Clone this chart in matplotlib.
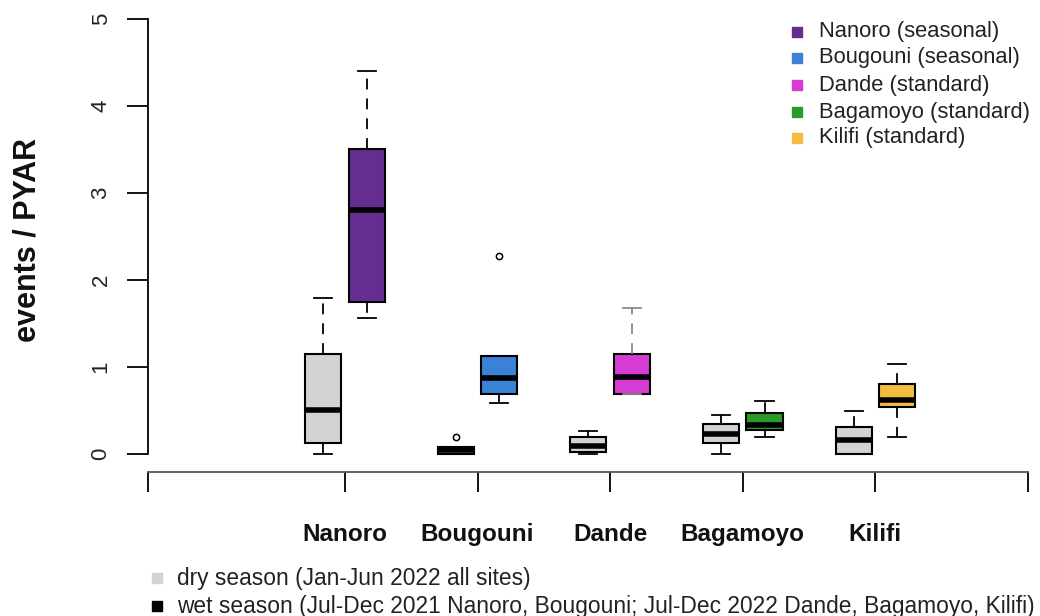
import matplotlib
matplotlib.use("Agg")
import matplotlib.pyplot as plt
import matplotlib.transforms as mtransforms
from matplotlib.lines import Line2D

plt.rcParams['font.family'] = ['Liberation Sans', 'DejaVu Sans']

# ---- data: boxplot summaries (events / PYAR) ----
sites = ['Nanoro', 'Bougouni', 'Dande', 'Bagamoyo', 'Kilifi']

dry_whislo = [0.00, 0.00, 0.00, 0.00, 0.00]
dry_q1     = [0.13, 0.00, 0.02, 0.13, 0.00]
dry_med    = [0.51, 0.045, 0.09, 0.23, 0.16]
dry_q3     = [1.15, 0.085, 0.20, 0.34, 0.31]
dry_whishi = [1.79, 0.085, 0.27, 0.45, 0.50]
dry_fliers = [[], [0.19], [], [], []]

wet_whislo = [1.56, 0.59, 0.69, 0.19, 0.19]
wet_q1     = [1.75, 0.69, 0.69, 0.28, 0.54]
wet_med    = [2.81, 0.87, 0.89, 0.33, 0.62]
wet_q3     = [3.51, 1.13, 1.15, 0.47, 0.80]
wet_whishi = [4.41, 1.13, 1.68, 0.61, 1.03]
wet_fliers = [[], [2.28], [], [], []]

legend_labels = ['Nanoro (seasonal)', 'Bougouni (seasonal)', 'Dande (standard)',
                 'Bagamoyo (standard)', 'Kilifi (standard)']
season_labels = ['dry season (Jan-Jun 2022 all sites)',
                 'wet season (Jul-Dec 2021 Nanoro, Bougouni; Jul-Dec 2022 Dande, Bagamoyo, Kilifi)']

# ---- styling ----
site_colors = ['#662D91', '#3A82D6', '#D63CD1', '#2A9A28', '#F2BC3E']
dry_color = '#D3D3D3'
W, H, DPI = 1040, 616, 100


def stats(whislo, q1, med, q3, whishi, fliers):
    return [dict(whislo=a, q1=b, med=c, q3=d, whishi=e, fliers=f)
            for a, b, c, d, e, f in zip(whislo, q1, med, q3, whishi, fliers)]


fig = plt.figure(figsize=(W / DPI, H / DPI), dpi=DPI)
# axes frame: x axis line at pixel row 472, y=5 at row 19
ax = fig.add_axes([147.7 / W, (H - 472) / H, (1027.7 - 147.7) / W, (472 - 19.3) / H])
xmin, xmax = -0.488, 6.149
ax.set_xlim(xmin, xmax)
ax.set_ylim(-0.207, 5)

pos = list(range(1, len(sites) + 1))
off = 0.164
bw = 0.272

common = dict(widths=bw, patch_artist=True, showfliers=True,
              boxprops=dict(linewidth=1.5, edgecolor='black'),
              medianprops=dict(color='black', linewidth=4.0, solid_capstyle='butt'),
              whiskerprops=dict(color='black', linewidth=1.3, linestyle=(0, (6, 5))),
              capprops=dict(color='black', linewidth=1.3),
              flierprops=dict(marker='o', markersize=4.5, markerfacecolor='white',
                              markeredgecolor='black', markeredgewidth=1.1, linestyle='none'))

bd = ax.bxp(stats(dry_whislo, dry_q1, dry_med, dry_q3, dry_whishi, dry_fliers),
            positions=[p - off for p in pos], **common)
bwt = ax.bxp(stats(wet_whislo, wet_q1, wet_med, wet_q3, wet_whishi, wet_fliers),
             positions=[p + off for p in pos], **common)
for b in bd['boxes']:
    b.set_facecolor(dry_color)
for b, c in zip(bwt['boxes'], site_colors):
    b.set_facecolor(c)
# lighter whisker on the Dande wet-season box
for art in bwt['whiskers'][4:6] + bwt['caps'][4:6]:
    art.set_color('#8a8a8a')

# ---- axes ----
for s in ['top', 'right']:
    ax.spines[s].set_visible(False)
ax.spines['left'].set_bounds(0, 5)
ax.spines['left'].set_linewidth(1.3)
ax.spines['bottom'].set_linewidth(1.3)
ax.spines['bottom'].set_color('#555555')
ax.set_yticks([0, 1, 2, 3, 4, 5])
ax.set_yticklabels(['0', '1', '2', '3', '4', '5'], rotation=90, va='center',
                   fontsize=16, color='#222222')
ax.tick_params(axis='y', length=15, width=1.3, pad=11)
ax.set_xticks([xmin] + pos + [xmax])
ax.set_xticklabels([''] * (len(pos) + 2))
ax.tick_params(axis='x', length=14.5, width=1.3)

blend = mtransforms.blended_transform_factory(ax.transData, fig.transFigure)
for p, s in zip(pos, sites):
    ax.text(p, 1 - 540.7 / H, s, transform=blend, ha='center', va='baseline',
            fontsize=17.5, fontweight='bold', color='#111111')

fig.text(28 / W, 1 - 240 / H, 'events / PYAR', rotation=90, ha='center', va='center',
         fontsize=22, fontweight='bold', color='#111111')

# ---- site legend (top right) ----
rows_y = [31.5, 58, 85, 112, 138]
for y, c, lab in zip(rows_y, site_colors, legend_labels):
    fig.add_artist(Line2D([797 / W], [1 - y / H], marker='s', markersize=7,
                          markerfacecolor=c, markeredgecolor=c, linestyle='none',
                          transform=fig.transFigure))
    fig.text(819 / W, 1 - y / H, lab, ha='left', va='center', fontsize=15.8, color='#222222')

# ---- season legend (bottom) ----
for y_sq, y_base, c, lab in zip([578, 605.5], [585, 613], [dry_color, 'black'], season_labels):
    fig.add_artist(Line2D([157 / W], [1 - y_sq / H], marker='s', markersize=7,
                          markerfacecolor=c, markeredgecolor=c, linestyle='none',
                          transform=fig.transFigure))
    fig.text(176.7 / W, 1 - y_base / H, lab, ha='left', va='baseline', fontsize=16.4,
             color='#222222')

fig.savefig('out.png', dpi=DPI)
